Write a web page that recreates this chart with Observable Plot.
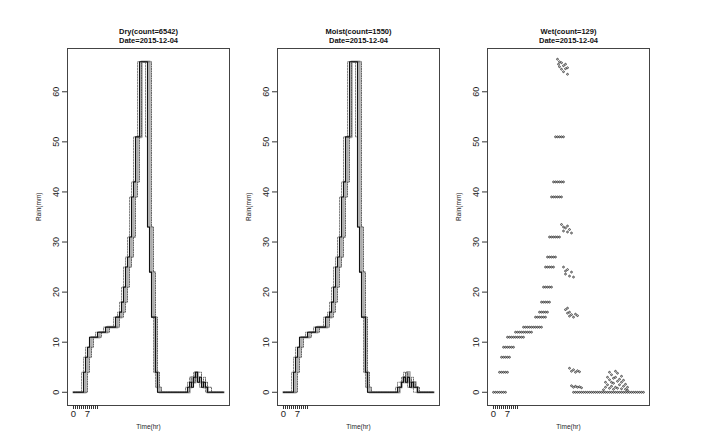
<!DOCTYPE html>
<html>
<head>
<meta charset="utf-8">
<script src="https://cdn.jsdelivr.net/npm/d3@7"></script>
<script src="https://cdn.jsdelivr.net/npm/@observablehq/plot@0.6"></script>
<style>
  html, body { margin: 0; padding: 0; background: #fff; }
  #chart { position: relative; width: 707px; height: 445px; background: #fff; overflow: hidden; }
  #chart svg { position: absolute; top: 0; background: transparent; }
</style>
</head>
<body>
<div id="chart"></div>
<script>
// ---------- data ----------
const panelTitles = ["Dry(count=6542)", "Moist(count=1550)", "Wet(count=129)"];
const dateLabel = "Date=2015-12-04";
const yLabel = "Rain(mm)";
const xLabel = "Time(hr)";
const yTicks = [0, 10, 20, 30, 40, 50, 60];
const xTicks = [0, 1, 2, 3, 4, 5, 6, 7, 8, 9, 10, 11, 12];
const xTickLabelled = [0, 7];

const timeIdx = [0,1,2,3,4,5,6,7,8,9,10,11,12,13,14,15,16,17,18,19,20,21,22,23,24,25,26,27,28,29,30,31,32,33,34,35,36,37,38,39,40,41,42,43,44,45,46,47,48,49,50,51,52,53,54,55,56,57,58,59,60,61,62,63,64,65,66,67,68,69,70,71,72,73,74,75];

// Dry ensemble summary lines
const dryMedian = [0,0,0,0,0, 4,7,9,11,11, 11,11,12,12,12, 12,13,13,13,13, 13,15,15,16,18, 21,25,27,31,39, 42,51,51,66,66, 66,66,33,24,15, 15,4,0,0,0, 0,0,0,0,0, 0,0,0,0,0, 0,0,1,2,1, 3,4,2,3,1, 2,1,0,0,0, 0,0,0,0,0, 0];
const dryLead   = [0,0,0,0,4, 7,9,9,11,11, 11,12,12,12,12, 13,13,13,13,13, 15,15,16,18,21, 25,27,31,39,42, 51,51,66,66,66, 66,51,33,24,15, 4,1,0,0,0, 0,0,0,0,0, 0,0,0,0,0, 0,1,2,3,2, 4,3,2,1,2, 1,0,0,0,0, 0,0,0,0,0, 0];
const dryLag    = [0,0,0,0,0, 0,0,4,7,9, 11,11,11,11,12, 12,12,12,13,13, 13,13,13,15,15, 16,18,21,25,27, 31,39,42,51,66, 66,66,66,66,33, 24,15,4,1,0, 0,0,0,0,0, 0,0,0,0,0, 0,0,0,1,2, 2,3,4,4,2, 3,2,1,1,0, 0,0,0,0,0, 0];
const dryMean   = [0,0,0,0,0, 0,4,7,9,11, 11,11,11,12,12, 12,12,13,13,13, 13,13,15,15,16, 18,21,25,27,31, 39,42,51,51,66, 66,66,66,33,24, 15,4,1,0,0, 0,0,0,0,0, 0,0,0,0,0, 0,0,0,1,3, 2,4,3,2,2, 1,1,0,0,0, 0,0,0,0,0, 0];

// Moist ensemble summary lines
const moistMedian = [0,0,0,0,0, 4,7,9,11,11, 11,11,12,12,12, 12,13,13,13,13, 13,15,15,16,18, 21,25,27,31,39, 42,51,51,66,66, 66,66,33,24,15, 15,4,0,0,0, 0,0,0,0,0, 0,0,0,0,0, 0,0,1,1,2, 3,2,3,1,2, 1,1,0,0,0, 0,0,0,0,0, 0];
const moistLead   = [0,0,0,0,4, 7,9,9,11,11, 11,12,12,12,12, 13,13,13,13,13, 15,15,16,18,21, 25,27,31,39,42, 51,51,66,66,66, 66,51,33,24,15, 4,1,0,0,0, 0,0,0,0,0, 0,0,0,0,0, 0,1,2,2,3, 4,2,1,2,1, 0,0,0,0,0, 0,0,0,0,0, 0];
const moistLag    = [0,0,0,0,0, 0,0,4,7,9, 11,11,11,11,12, 12,12,12,13,13, 13,13,13,15,15, 16,18,21,25,27, 31,39,42,51,66, 66,66,66,66,33, 24,15,4,1,0, 0,0,0,0,0, 0,0,0,0,0, 0,0,0,1,2, 3,4,3,2,3, 2,1,1,0,0, 0,0,0,0,0, 0];
const moistMean   = [0,0,0,0,0, 0,4,7,9,11, 11,11,11,12,12, 12,12,13,13,13, 13,13,15,15,16, 18,21,25,27,31, 39,42,51,51,66, 66,66,66,33,24, 15,4,1,0,0, 0,0,0,0,0, 0,0,0,0,0, 0,0,0,1,2, 3,2,4,2,1, 2,1,0,0,0, 0,0,0,0,0, 0];

// Wet ensemble points: horizontal rows (level + times), and scattered clusters
const wetRowLevels = [0, 4, 7, 9, 11, 12, 13, 15, 16, 18, 21, 25, 27, 31, 39, 42, 51, 0];
const wetRowTimes = [
  [0,1,2,3,4,5,6],
  [3,4,5,6,7],
  [4,5,6,7,8],
  [5,6,7,8,9,10],
  [7,8,9,10,11,12,13,14,15],
  [11,12,13,14,15,16,17,18,19],
  [15,16,17,18,19,20,21,22,23,24],
  [21,22,23,24,25,26],
  [23,24,25,26,27],
  [24,25,26,27,28],
  [25,26,27,28,29],
  [26,27,28,29,30],
  [27,28,29,30,31],
  [28,29,30,31,32,33],
  [29,30,31,32,33,34],
  [30,31,32,33,34,35],
  [31,32,33,34,35],
  [40,41,42,43,44,45,46,47,48,49,50,51,52,53,54,55,56,57,58,59,60,61,62,63,64,65,66,67,68,69,70,71,72,73,74,75]
];
const wetClusterTime = [32,32.5,33,33,34,34,35,35,36,36,37,37,
  34,35,35,36,37,37,38,39,
  35,36,36,37,38,39,40,
  36,37,37,38,38,39,40,41,42,
  38,39,40,41,42,43,
  39,40,41,42,43,44,
  55,56,56,57,57,58,58,58,59,59,59,60,60,60,61,61,61,62,62,62,63,63,64,64,64,65,65,66,66,67,67];
const wetClusterRain = [66.5,65.5,66,65,64.5,65.8,65.2,64,64.6,65.5,63.5,64.8,
  33.5,33,32.2,32.8,32,33.2,32.5,31.8,
  25,24.2,23.6,24.5,23.2,24,23,
  16.5,15.8,16.8,15.2,16,15.5,15,15.6,15.3,
  4.8,4.2,4.5,4,4.3,4.1,
  1.3,1,1.2,1,1.1,0.9,
  0.5,1,2,1.5,3,0.8,2.5,4,1.2,3.5,2,0.6,2.8,1.8,4.2,1,3,2.2,0.8,3.8,1.5,2.6,0.7,2,3.2,1.2,2.4,0.6,1.6,1,0.4];

// ---------- build ----------
const wetPoints = [];
wetRowLevels.forEach((lv, k) => wetRowTimes[k].forEach(t => wetPoints.push({t, r: lv})));
wetClusterTime.forEach((t, i) => wetPoints.push({t, r: wetClusterRain[i]}));

const FONT = "'Liberation Sans', Arial, Helvetica, sans-serif";
const container = document.getElementById("chart");

function basePanel(title, extraMarks) {
  return Plot.plot({
    width: 230,
    height: 445,
    marginLeft: 67,
    marginRight: 1,
    marginTop: 48,
    marginBottom: 40,
    style: {fontFamily: FONT, background: "transparent", color: "#111"},
    x: {domain: [-3, 78], axis: null},
    y: {domain: [-2.64, 68.64], axis: null},
    marks: [
      ...extraMarks,
      Plot.frame({stroke: "#444", strokeWidth: 1}),
      Plot.axisY(yTicks, {anchor: "left", tickSize: 5, tickPadding: 4, tickRotate: -90, fontSize: 9, label: null, stroke: "#333", fill: "#222"}),
      Plot.axisX(xTicks, {anchor: "bottom", tickSize: 4, tickPadding: 1, fontSize: 9.5, label: null, stroke: "#333", fill: "#222",
        tickFormat: d => xTickLabelled.includes(d) ? String(d) : ""}),
      Plot.text([title + "\n" + dateLabel], {text: d => d, frameAnchor: "top", dy: -13, lineAnchor: "middle",
        fontWeight: "bold", fontSize: 7.5, lineHeight: 1.2, fill: "#111"}),
      Plot.text([yLabel], {text: d => d, frameAnchor: "left", dx: -29, dy: -6, rotate: -90, fontSize: 6.5, fill: "#222"}),
      Plot.text([xLabel], {text: d => d, frameAnchor: "bottom", dy: 23, fontSize: 6.5, fill: "#222"})
    ]
  });
}

function stepMarks(mean, lead, lag, median) {
  return [
    Plot.lineY(mean, {x: timeIdx, curve: "step-after", stroke: "#aaa", strokeWidth: 2.6}),
    Plot.lineY(lead, {x: timeIdx, curve: "step-after", stroke: "#777", strokeWidth: 0.9, strokeDasharray: "1.6,1.2"}),
    Plot.lineY(lag, {x: timeIdx, curve: "step-after", stroke: "#555", strokeWidth: 0.9, strokeDasharray: "1.2,1.2"}),
    Plot.lineY(median, {x: timeIdx, curve: "step-after", stroke: "#111", strokeWidth: 1.1})
  ];
}

const p1 = basePanel(panelTitles[0], stepMarks(dryMean, dryLead, dryLag, dryMedian));
const p2 = basePanel(panelTitles[1], stepMarks(moistMean, moistLead, moistLag, moistMedian));
const p3 = basePanel(panelTitles[2], [
  Plot.dot(wetPoints, {x: "t", y: "r", r: 0.9, stroke: "#222", strokeWidth: 0.8, fill: "none"})
]);

[p1, p2, p3].forEach((svg, i) => {
  svg.style.left = (i * 210) + "px";
  container.appendChild(svg);
});
</script>
</body>
</html>
